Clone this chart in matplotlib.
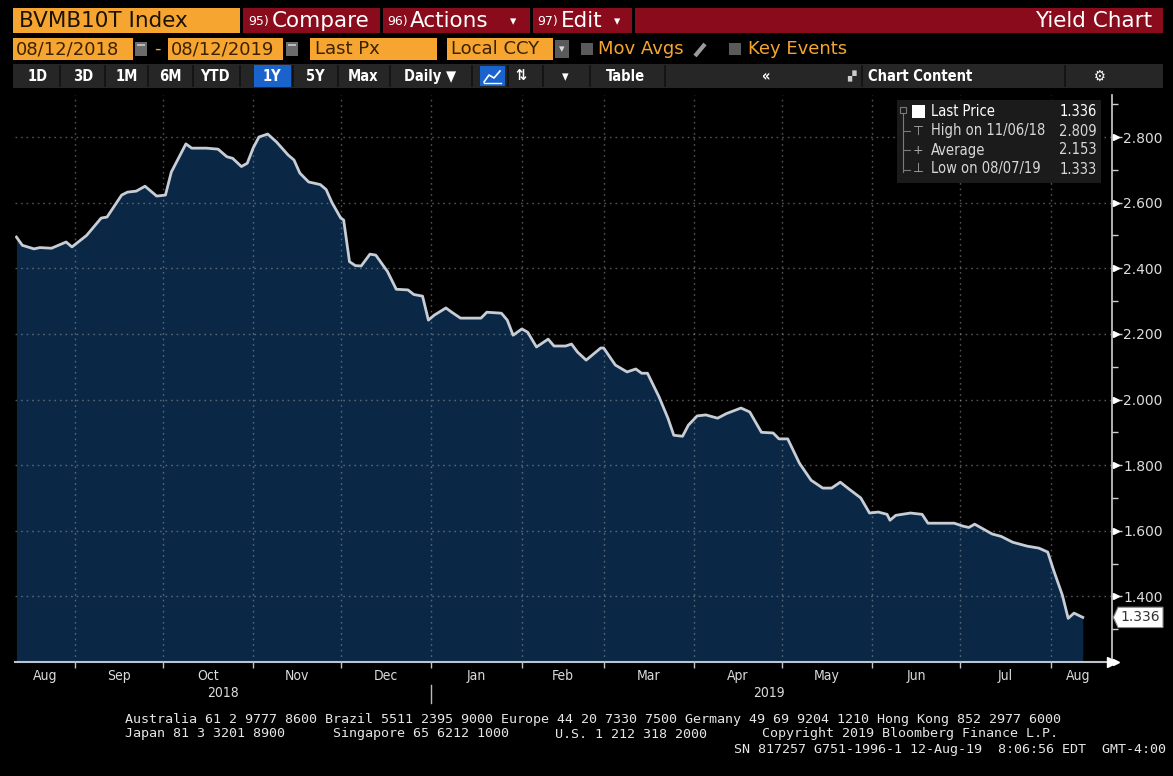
import matplotlib
matplotlib.use('Agg')
import matplotlib.pyplot as plt
import matplotlib.dates as mdates
from matplotlib.patches import Rectangle, Polygon
import pandas as pd
import numpy as np

# ---------------- data ----------------
dates = [
    '2018-08-12', '2018-08-14', '2018-08-18', '2018-08-20', '2018-08-24', '2018-08-29', '2018-08-31',
    '2018-09-05', '2018-09-10', '2018-09-12', '2018-09-17', '2018-09-19', '2018-09-22', '2018-09-25',
    '2018-09-29', '2018-10-02', '2018-10-04', '2018-10-09', '2018-10-11', '2018-10-16', '2018-10-20',
    '2018-10-23', '2018-10-25', '2018-10-28', '2018-10-30', '2018-11-01', '2018-11-03', '2018-11-06',
    '2018-11-09', '2018-11-13', '2018-11-15', '2018-11-17', '2018-11-20', '2018-11-24', '2018-11-26',
    '2018-11-28', '2018-12-01', '2018-12-02', '2018-12-04', '2018-12-06', '2018-12-08', '2018-12-11',
    '2018-12-13', '2018-12-17', '2018-12-20', '2018-12-24', '2018-12-26', '2018-12-29', '2018-12-31',
    '2019-01-02', '2019-01-06', '2019-01-08', '2019-01-11', '2019-01-18', '2019-01-20', '2019-01-25',
    '2019-01-27', '2019-01-29', '2019-02-01', '2019-02-03', '2019-02-06', '2019-02-10', '2019-02-12',
    '2019-02-16', '2019-02-18', '2019-02-20', '2019-02-23', '2019-02-28', '2019-03-01', '2019-03-05',
    '2019-03-09', '2019-03-12', '2019-03-14', '2019-03-16', '2019-03-20', '2019-03-23', '2019-03-25',
    '2019-03-28', '2019-03-30', '2019-04-02', '2019-04-05', '2019-04-09', '2019-04-12', '2019-04-17',
    '2019-04-20', '2019-04-24', '2019-04-28', '2019-04-30', '2019-05-03', '2019-05-07', '2019-05-11',
    '2019-05-15', '2019-05-18', '2019-05-21', '2019-05-24', '2019-05-28', '2019-05-31', '2019-06-03',
    '2019-06-06', '2019-06-07', '2019-06-09', '2019-06-14', '2019-06-18', '2019-06-20', '2019-06-29',
    '2019-07-02', '2019-07-04', '2019-07-06', '2019-07-08', '2019-07-12', '2019-07-15', '2019-07-19',
    '2019-07-24', '2019-07-28', '2019-07-31', '2019-08-02', '2019-08-05', '2019-08-07', '2019-08-09',
    '2019-08-12',
]
values = [
    2.495, 2.470, 2.459, 2.463, 2.461, 2.480, 2.465,
    2.500, 2.553, 2.556, 2.623, 2.632, 2.635, 2.650,
    2.620, 2.623, 2.693, 2.779, 2.766, 2.766, 2.763,
    2.740, 2.735, 2.710, 2.720, 2.766, 2.800, 2.809,
    2.785, 2.745, 2.730, 2.690, 2.663, 2.655, 2.640,
    2.600, 2.553, 2.547, 2.420, 2.408, 2.407, 2.443,
    2.440, 2.390, 2.336, 2.334, 2.320, 2.315, 2.242,
    2.257, 2.279, 2.266, 2.248, 2.248, 2.266, 2.263,
    2.242, 2.196, 2.215, 2.205, 2.160, 2.184, 2.163,
    2.163, 2.169, 2.145, 2.120, 2.157, 2.157, 2.105,
    2.084, 2.093, 2.080, 2.080, 2.007, 1.943, 1.891,
    1.888, 1.922, 1.950, 1.953, 1.943, 1.957, 1.974,
    1.962, 1.900, 1.898, 1.880, 1.880, 1.806, 1.754,
    1.730, 1.730, 1.748, 1.727, 1.700, 1.654, 1.657,
    1.650, 1.632, 1.647, 1.654, 1.650, 1.623, 1.623,
    1.614, 1.610, 1.620, 1.610, 1.590, 1.583, 1.565,
    1.553, 1.547, 1.535, 1.480, 1.404, 1.333, 1.349,
    1.336,
]
month_starts = ['2018-09-01', '2018-10-01', '2018-11-01', '2018-12-01', '2019-01-01', '2019-02-01',
                '2019-03-01', '2019-04-01', '2019-05-01', '2019-06-01', '2019-07-01', '2019-08-01']
month_labels = ['Aug', 'Sep', 'Oct', 'Nov', 'Dec', 'Jan', 'Feb', 'Mar', 'Apr', 'May', 'Jun', 'Jul', 'Aug']
year_labels = ['2018', '2019']
y_ticks = [1.4, 1.6, 1.8, 2.0, 2.2, 2.4, 2.6, 2.8]
legend_names = ['Last Price', 'High on 11/06/18', 'Average', 'Low on 08/07/19']
legend_values = ['1.336', '2.809', '2.153', '1.333']
last_price = 1.336
x_start, x_end = '2018-08-11 12:00', '2019-08-22'
y_min, y_max = 1.2, 2.928

# ---------------- figure ----------------
W, H = 1173, 776
fig = plt.figure(figsize=(W / 100, H / 100), dpi=100, facecolor='black')
ui = fig.add_axes([0, 0, 1, 1], zorder=0)
ui.set_xlim(0, W); ui.set_ylim(H, 0); ui.axis('off')

FONT = ['DejaVu Sans']
ORANGE = '#f7a531'
RED = '#8a0b1c'
COND = 'condensed'


def box(x0, y0, x1, y1, color, a=ui, z=1, **kw):
    a.add_patch(Rectangle((x0, y0), x1 - x0, y1 - y0, facecolor=color, edgecolor='none', zorder=z, **kw))


def txt(x, y, s, a=ui, size=11, color='white', ha='left', va='center', **kw):
    a.text(x, y, s, fontsize=size, color=color, ha=ha, va=va, family=FONT, zorder=5, **kw)


# row 1
box(13, 8, 240, 33, ORANGE)
txt(19, 21, 'BVMB10T Index', size=15.5, color='#1b1206')
box(243, 8, 380, 33, RED)
txt(248, 22, '95)', size=9)
txt(272, 21, 'Compare', size=15.5)
box(383, 8, 530, 33, RED)
txt(387, 22, '96)', size=9)
txt(410, 21, 'Actions', size=15.5)
txt(510, 22, '▾', size=9)
box(533, 8, 632, 33, RED)
txt(537, 22, '97)', size=9)
txt(561, 21, 'Edit', size=15.5)
txt(614, 22, '▾', size=9)
box(635, 8, 1163, 33, RED)
txt(1152, 21, 'Yield Chart', size=15.5, ha='right')

# row 2
DARK = '#3a2200'
box(13, 38, 133, 60, ORANGE)
txt(16, 49, '08/12/2018', size=13, color=DARK)
box(135, 42, 147, 56, '#6b6b6b'); box(137, 44, 145, 46, '#bbbbbb')
txt(157, 49, '-', size=13, color=ORANGE, ha='center')
box(168, 38, 283, 60, ORANGE)
txt(171, 49, '08/12/2019', size=13, color=DARK)
box(286, 42, 298, 56, '#6b6b6b'); box(288, 44, 296, 46, '#bbbbbb')
box(310, 38, 437, 60, ORANGE)
txt(315, 49, 'Last Px', size=13, color=DARK)
box(447, 38, 553, 60, ORANGE)
txt(451, 49, 'Local CCY', size=13, color=DARK)
box(555, 40, 569, 58, '#5a5a5a')
txt(562, 49, '▾', size=8, ha='center', color='#dddddd')
box(581, 43, 593, 55, '#5a5a5a')
txt(598, 49, 'Mov Avgs', size=13, color=ORANGE)
ui.plot([695, 705], [56, 44], color='#9a9a9a', lw=3, solid_capstyle='butt', zorder=3)
box(729, 43, 741, 55, '#5a5a5a')
txt(748, 49, 'Key Events', size=13, color=ORANGE)

# row 3
box(13, 64, 1163, 88, '#262626')
for sx in [60, 105, 148, 193, 240, 293, 338, 390, 472, 508, 543, 590, 665, 862, 1065]:
    ui.plot([sx, sx], [66, 86], color='#111111', lw=1.2, zorder=2)
box(254, 65, 291, 87, '#1b63cc', z=2)
box(480, 66, 505, 86, '#1b63cc', z=2)
ui.plot([484, 489, 494, 500], [82, 75, 78, 71], color='white', lw=1.2, zorder=4)
ui.plot([484, 501], [83, 83], color='white', lw=1, zorder=4)
for lab, cx in [('1D', 38), ('3D', 83), ('1M', 127), ('6M', 170), ('YTD', 215), ('1Y', 272),
                ('5Y', 315), ('Max', 363), ('Daily ▼', 430), ('⇅', 521), ('▾', 565), ('Table', 625),
                ('«', 766), ('Chart Content', 920), ('⚙', 1100)]:
    txt(cx, 76.5, lab, size=10.5, ha='center', weight='bold', fontstretch=COND)
txt(851, 76, '▞', size=8, ha='center', color='#cccccc')

# ---------------- chart ----------------
L, R, T, B = 15, 1112, 95, 662
ax = fig.add_axes([L / W, (H - B) / H, (R - L) / W, (B - T) / H], zorder=1)
ax.set_facecolor('black')
x = mdates.date2num(pd.to_datetime(dates))
ax.fill_between(x, values, y_min, color='#0a2846', lw=0, zorder=1)
ax.plot(x, values, color='#c8cdd5', lw=2.0, zorder=4, solid_joinstyle='round')
ax.set_xlim(mdates.date2num(pd.Timestamp(x_start)), mdates.date2num(pd.Timestamp(x_end)))
ax.set_ylim(y_min, y_max)

grid_style = dict(color='#9a9a9a', lw=1.0, ls=(0, (1.2, 2.8)), alpha=0.55, zorder=3)
for yv in y_ticks:
    ax.axhline(yv, **grid_style)
ms = mdates.date2num(pd.to_datetime(month_starts))
for mv in ms:
    ax.axvline(mv, **grid_style)

for s in ['top', 'left']:
    ax.spines[s].set_visible(False)
ax.spines['right'].set_color('#cfcfcf')
ax.spines['bottom'].set_color('#bfc4cc')
ax.spines['right'].set_linewidth(1.2)
ax.spines['bottom'].set_linewidth(1.5)

ax.yaxis.tick_right()
ax.set_yticks(y_ticks)
ax.set_yticklabels([f'{v:.3f}' for v in y_ticks])
ax.set_yticks(np.arange(1.3, 2.95, 0.2), minor=True)
ax.tick_params(axis='y', which='major', length=7, width=1, color='#cfcfcf', labelcolor='#dcdcdc',
               labelsize=10, pad=1)
ax.tick_params(axis='y', which='minor', length=4, width=1, color='#cfcfcf')
ytr = ax.get_yaxis_transform()
ax.plot([1.0035] * (len(y_ticks) + 1), [y_min] + y_ticks, ls='none', marker='>', ms=5,
        color='white', transform=ytr, clip_on=False, zorder=6)

ax.set_xticks(ms)
ax.set_xticklabels([])
ax.tick_params(axis='x', length=4, width=1, color='#bfc4cc', direction='out')

xtr = ax.get_xaxis_transform()
bounds = [mdates.date2num(pd.Timestamp(x_start))] + list(ms) + [mdates.date2num(pd.Timestamp('2019-08-20'))]
for i, lab in enumerate(month_labels):
    cx = (bounds[i] + bounds[i + 1]) / 2
    ax.text(cx, -0.025, lab, transform=xtr, ha='center', va='center', fontsize=10, color='#dcdcdc',
            family=FONT, fontstretch=COND, clip_on=False)
ystart = mdates.date2num(pd.Timestamp('2019-01-01'))
ax.text((bounds[0] + ystart) / 2, -0.055, year_labels[0], transform=xtr, ha='center', va='center',
        fontsize=10, color='#dcdcdc', family=FONT, fontstretch=COND, clip_on=False)
ax.text((ystart + bounds[-1]) / 2, -0.055, year_labels[1], transform=xtr, ha='center', va='center',
        fontsize=10, color='#dcdcdc', family=FONT, fontstretch=COND, clip_on=False)
ax.plot([ystart, ystart], [-0.04, -0.072], transform=xtr, color='#bbbbbb', lw=1, clip_on=False)
ax.plot([1.0], [0.0], marker='>', ms=7, color='white', transform=ax.transAxes, clip_on=False, zorder=6)

# last price tag
dy = 0.031
tag = Polygon([[1.0012, last_price], [1.0055, last_price + dy], [1.0465, last_price + dy],
               [1.0465, last_price - dy], [1.0055, last_price - dy]], closed=True,
              facecolor='white', edgecolor='#888888', lw=0.8, transform=ytr, clip_on=False, zorder=7)
ax.add_patch(tag)
ax.text(1.026, last_price, f'{last_price:.3f}', transform=ytr, ha='center', va='center',
        fontsize=10, color='#333333', family=FONT, clip_on=False, zorder=8)

# ---------------- legend (overlay) ----------------
top = fig.add_axes([0, 0, 1, 1], zorder=3)
top.set_xlim(0, W); top.set_ylim(H, 0); top.axis('off')
top.patch.set_alpha(0)
box(897, 100, 1101, 183, '#1b1b1b', a=top)
gc = '#7a7a7a'
top.add_patch(Rectangle((900, 107), 6, 6, facecolor='none', edgecolor=gc, lw=0.8))
top.plot([903, 903], [113, 172], color=gc, lw=0.8)
for yy in [131, 150, 170]:
    top.plot([903, 910], [yy, yy], color=gc, lw=0.8)
top.add_patch(Rectangle((912, 105), 13, 13, facecolor='white', edgecolor='none'))
syms = ['', '⊤', '+', '⊥']
rows_y = [112, 131, 150, 169]
for i, (nm, vv) in enumerate(zip(legend_names, legend_values)):
    col = 'white' if i == 0 else '#d8d8d8'
    txt(931, rows_y[i], nm, a=top, size=10.5, color=col, fontstretch=COND)
    txt(1097, rows_y[i], vv, a=top, size=10.5, color=col, ha='right', fontstretch=COND)
    if syms[i]:
        txt(918, rows_y[i], syms[i], a=top, size=9, color='#aaaaaa', ha='center')

# ---------------- footer ----------------
MONO = ['DejaVu Sans Mono']
fs = 9.6
def mono(xx, yy, s, ha='left'):
    ui.text(xx, yy, s, fontsize=fs, color='#e6e6e6', family=MONO, ha=ha, va='center')
mono(125, 719, 'Australia 61 2 9777 8600 Brazil 5511 2395 9000 Europe 44 20 7330 7500 Germany 49 69 9204 1210 Hong Kong 852 2977 6000')
mono(125, 734, 'Japan 81 3 3201 8900')
mono(333, 734, 'Singapore 65 6212 1000')
mono(555, 734, 'U.S. 1 212 318 2000')
mono(762, 734, 'Copyright 2019 Bloomberg Finance L.P.')
mono(1166, 749, 'SN 817257 G751-1996-1 12-Aug-19  8:06:56 EDT  GMT-4:00', ha='right')

fig.savefig('out.png', dpi=100, facecolor='black')
